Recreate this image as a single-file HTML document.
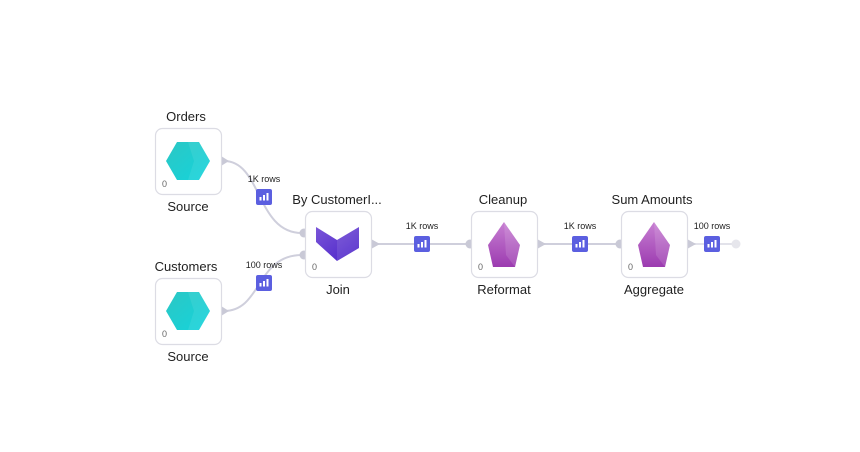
<!DOCTYPE html>
<html><head><meta charset="utf-8"><style>
html,body{margin:0;padding:0;background:#fff;width:860px;height:452px;overflow:hidden}
text{font-family:"Liberation Sans",sans-serif}
</style></head><body>
<svg width="860" height="452" viewBox="0 0 860 452" xmlns="http://www.w3.org/2000/svg">
<defs>
<linearGradient id="teal" x1="0" y1="0" x2="1" y2="1"><stop offset="0" stop-color="#2cc7c4"/><stop offset="1" stop-color="#14d4dc"/></linearGradient>
<linearGradient id="vio" x1="0" y1="0" x2="1" y2="1"><stop offset="0" stop-color="#7a55d8"/><stop offset="1" stop-color="#4a22c8"/></linearGradient>
<linearGradient id="pur" x1="0" y1="0" x2="0" y2="1"><stop offset="0" stop-color="#c77fd2"/><stop offset="1" stop-color="#9c3bb0"/></linearGradient>
<g id="badge"><rect x="-8" y="-8" width="16" height="16" rx="2" fill="#5b5fe0"/><rect x="-4.5" y="0" width="2" height="3.5" fill="#fff"/><rect x="-1" y="-2" width="2" height="5.5" fill="#fff"/><rect x="2.5" y="-4" width="2" height="7.5" fill="#fff"/></g>
<g id="hex"><polygon points="-22,0 -11,-19 11,-19 22,0 11,19 -11,19" fill="url(#teal)"/><polygon points="0,-19 11,-19 22,0 11,19 0,19 6,0" fill="#fff" opacity="0.08"/></g>
<g id="gem"><polygon points="0,-23 16,0 11,22 -11,22 -16,0" fill="url(#pur)"/><polygon points="0,-23 16,0 11,22 2,10" fill="#fff" opacity="0.12"/></g>
</defs>
<g fill="none" stroke="#cfcfdc" stroke-width="2">
<path d="M224 161 C262 161 256 233 302 233"/>
<path d="M224 311 C262 311 256 255 302 255"/>
<path d="M374 244 L468 244"/>
<path d="M540 244 L618 244"/>
<path d="M690 244 L732 244" stroke="#e2e2ea"/>
</g>
<circle cx="736" cy="244" r="4.5" fill="#e6e6ec"/>
<g fill="#c9c9d6">
<polygon points="221,156 229,161 221,166"/><polygon points="221,306 229,311 221,316"/>
<polygon points="371,239 380,244 371,249"/><polygon points="537,239 546,244 537,249"/><polygon points="687,239 696,244 687,249"/>
<circle cx="304" cy="233" r="4.5"/><circle cx="304" cy="255" r="4.5"/><circle cx="470" cy="244" r="4.5"/><circle cx="620" cy="244" r="4.5"/>
</g>
<g fill="#fff" stroke="#dcdce4" stroke-width="1.2">
<rect x="155.5" y="128.5" width="66" height="66" rx="7"/>
<rect x="155.5" y="278.5" width="66" height="66" rx="7"/>
<rect x="305.5" y="211.5" width="66" height="66" rx="7"/>
<rect x="471.5" y="211.5" width="66" height="66" rx="7"/>
<rect x="621.5" y="211.5" width="66" height="66" rx="7"/>
</g>
<use href="#hex" x="188" y="161"/>
<use href="#hex" x="188" y="311"/>
<polygon points="316,227 337,240 359,227 359,248 337,261 316,242" fill="url(#vio)"/>
<polygon points="337,240 359,227 359,248 337,261" fill="#fff" opacity="0.1"/>
<use href="#gem" x="504" y="245"/>
<use href="#gem" x="654" y="245"/>
<g font-size="9" fill="#666"><text x="162" y="187">0</text><text x="162" y="337">0</text><text x="312" y="270">0</text><text x="478" y="270">0</text><text x="628" y="270">0</text></g>
<g font-size="13" fill="#222" text-anchor="middle">
<text x="186" y="121">Orders</text><text x="188" y="211">Source</text>
<text x="186" y="271">Customers</text><text x="188" y="361">Source</text>
<text x="337" y="204">By CustomerI...</text><text x="338" y="294">Join</text>
<text x="503" y="204">Cleanup</text><text x="504" y="294">Reformat</text>
<text x="652" y="204">Sum Amounts</text><text x="654" y="294">Aggregate</text>
</g>
<g font-size="9" fill="#222" text-anchor="middle">
<text x="264" y="182">1K rows</text><text x="264" y="268">100 rows</text>
<text x="422" y="229">1K rows</text><text x="580" y="229">1K rows</text><text x="712" y="229">100 rows</text>
</g>
<use href="#badge" x="264" y="197"/><use href="#badge" x="264" y="283"/>
<use href="#badge" x="422" y="244"/><use href="#badge" x="580" y="244"/><use href="#badge" x="712" y="244"/>
</svg>
</body></html>
